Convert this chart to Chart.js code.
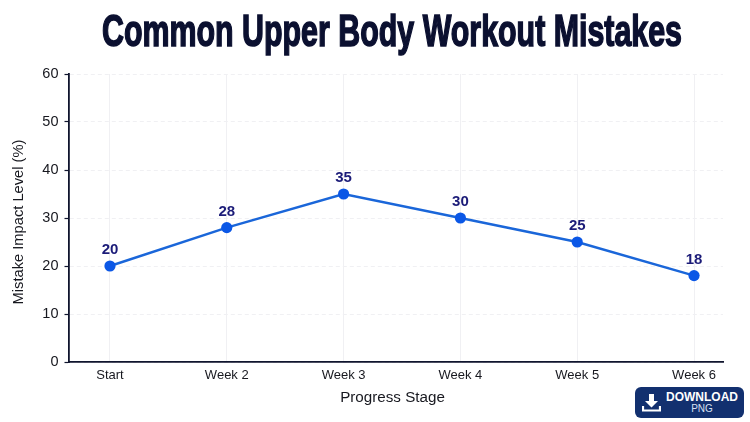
<!DOCTYPE html>
<html>
<head>
<meta charset="utf-8">
<script src="https://cdn.jsdelivr.net/npm/chart.js@4"></script>
<style>
  html, body { margin: 0; padding: 0; background: #fff; }
  #wrap { position: relative; width: 750px; height: 422px; overflow: hidden; }
  canvas { position: absolute; left: 0; top: 0; }
  #title {
    position: absolute; left: 91.5px; top: 0; width: 600px; text-align: center;
    font: 700 45px/62px "Liberation Sans", sans-serif; color: #0b1030;
    -webkit-text-stroke: 1.6px #0b1030; white-space: nowrap;
    display: flex; justify-content: center;
    transform: scaleX(0.675); transform-origin: 50% 0;
  }
  #download {
    position: absolute; left: 635px; top: 387px; width: 109px; height: 31px;
    background: #12306f; border-radius: 6px; color: #fff;
    font-family: "Liberation Sans", Arial, sans-serif; font-weight: 700;
  }
  #download svg { position: absolute; left: 7px; top: 6px; }
  #download .a { position: absolute; left: 30px; width: 74px; top: 3px; text-align: center; font-size: 12px; line-height: 14px; }
  #download .b { position: absolute; left: 30px; width: 74px; top: 16px; text-align: center; font-size: 10px; line-height: 12px; font-weight: 400; color: #d8e0f2; }
</style>
</head>
<body>
<div id="wrap">
  <canvas id="chart" width="750" height="422"></canvas>
  <div id="title">Common Upper Body Workout Mistakes</div>
  <div id="download">
    <svg width="19" height="19" viewBox="0 0 19 19">
      <path d="M7 1h5v7h4l-6.5 6.5L3 8h4z" fill="#fff"/>
      <path d="M1 13v4.5h17V13" fill="none" stroke="#fff" stroke-width="2.2"/>
    </svg>
    <div class="a">DOWNLOAD</div>
    <div class="b">PNG</div>
  </div>
</div>
<script>
const categories = ["Start", "Week 2", "Week 3", "Week 4", "Week 5", "Week 6"];
const impactLevels = [20, 28, 35, 30, 25, 18];
const yTicks = [0, 10, 20, 30, 40, 50, 60];

const axisColor = "#10152e";
const textColor = "#17181f";
const gridColor = "#f0f0f3";
const gridDash = [4, 3];
const fontFamily = '"Liberation Sans", Arial, sans-serif';

// Writes each value above its point, then both axis titles.
const chartText = {
  id: "chartText",
  afterDatasetsDraw(chart) {
    const { ctx, scales } = chart;
    ctx.save();
    ctx.font = "700 15px " + fontFamily;
    ctx.fillStyle = "#1b1b78";
    ctx.textAlign = "center";
    ctx.textBaseline = "middle";
    impactLevels.forEach((v, i) => {
      ctx.fillText(String(v), scales.x.getPixelForValue(i), scales.y.getPixelForValue(v) - 16);
    });
    ctx.fillStyle = textColor;
    ctx.font = "15.2px " + fontFamily;
    ctx.fillText("Progress Stage", 392.5, 397.5);
    ctx.translate(19, 222);
    ctx.rotate(-Math.PI / 2);
    ctx.font = "14.7px " + fontFamily;
    ctx.fillText("Mistake Impact Level (%)", 0, 0);
    ctx.restore();
  }
};

new Chart(document.getElementById("chart"), {
  type: "line",
  data: {
    datasets: [{
      data: impactLevels.map((v, i) => ({ x: i, y: v })),
      borderColor: "#1a66d9",
      backgroundColor: "#0b57e6",
      borderWidth: 2.4,
      pointRadius: 5.6,
      pointBackgroundColor: "#0b57e6",
      pointBorderWidth: 0,
      tension: 0,
      clip: false
    }]
  },
  plugins: [chartText],
  options: {
    responsive: false,
    animation: false,
    layout: { padding: { left: 0, right: 27, top: 74, bottom: 0 } },
    plugins: { legend: { display: false }, title: { display: false }, tooltip: { enabled: false } },
    scales: {
      x: {
        type: "linear",
        min: -0.355,
        max: 5.248,
        afterBuildTicks(scale) {
          scale.ticks = categories.map((_, i) => ({ value: i }));
        },
        afterFit(scale) { scale.height = 60; },
        border: { color: axisColor, width: 1.8 },
        grid: { color: gridColor, lineWidth: 1, drawTicks: false },
        ticks: {
          autoSkip: false, maxRotation: 0, padding: 6,
          color: textColor,
          font: { family: fontFamily, size: 13 },
          callback: (v) => categories[v]
        }
      },
      y: {
        min: 0,
        max: 60,
        afterBuildTicks(scale) {
          scale.ticks = yTicks.map((value) => ({ value }));
        },
        afterFit(scale) { scale.width = 68.5; },
        border: { color: axisColor, width: 1.8, dash: gridDash },
        grid: {
          color: gridColor, lineWidth: 1, tickLength: 4, tickColor: axisColor, tickWidth: 1.2
        },
        ticks: {
          padding: 6, color: textColor,
          font: { family: fontFamily, size: 14.5 }
        }
      }
    }
  }
});
</script>
</body>
</html>
